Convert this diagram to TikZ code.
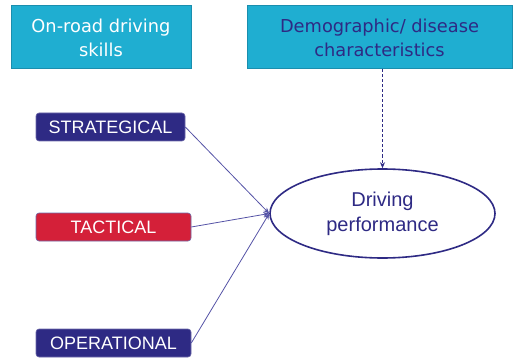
\documentclass[tikz,border=0pt]{standalone}
\usepackage{fontspec}
\setmainfont{Liberation Sans}
\newfontfamily\verd{DejaVu Sans}
\usetikzlibrary{shapes.geometric,arrows.meta}
\definecolor{cyanbox}{HTML}{1FAED1}
\definecolor{cyanedge}{HTML}{1A8EAE}
\definecolor{navy}{HTML}{2E2A84}
\definecolor{redbox}{HTML}{D42039}
\definecolor{linec}{HTML}{5553A6}
\tikzset{
  topbox/.style={draw=cyanedge, line width=1pt, fill=cyanbox, inner sep=0pt, align=center,
    font=\verd\fontsize{17.8}{24}\selectfont},
  levelbox/.style={rounded corners=3pt, inner sep=0pt, text=white, draw=navy!70, line width=0.6pt,
    font=\fontsize{18}{20}\selectfont, minimum height=28pt},
  conn/.style={draw=linec, line width=0.8pt, -{Stealth[length=6pt,width=5pt]}}
}
\begin{document}
\begin{tikzpicture}[x=1pt,y=-1pt]
\useasboundingbox (0,0) rectangle (513,358);
\node[topbox, text=white, minimum width=180pt, minimum height=63pt] (skills) at (101,37.5) {On-road driving\\skills};
\node[topbox, text=navy, minimum width=265pt, minimum height=63pt] (demo) at (379.5,37.5) {Demographic/ disease\\characteristics};
\node[levelbox, fill=navy, minimum width=149pt] (strat) at (110.5,127) {STRATEGICAL};
\node[levelbox, fill=redbox, minimum width=155pt] (tact) at (113.5,227) {TACTICAL};
\node[levelbox, fill=navy, minimum width=155pt] (oper) at (113.5,343) {OPERATIONAL};
\node[ellipse, draw=navy, line width=1.6pt, minimum width=225pt, minimum height=89pt, inner sep=0pt,
  text=navy, align=center, font=\fontsize{20}{25}\selectfont] (perf) at (382.5,213.5) {Driving\\performance};
\draw[draw=navy, line width=0.8pt, dash pattern=on 3pt off 2pt, -{Stealth[length=6pt,width=5pt]}] (demo.south -| perf.north) -- (perf.north);
\draw[conn] (strat.east) -- (perf.west);
\draw[conn] (tact.east) -- (perf.west);
\draw[conn] (oper.east) -- (perf.west);
\end{tikzpicture}
\end{document}
